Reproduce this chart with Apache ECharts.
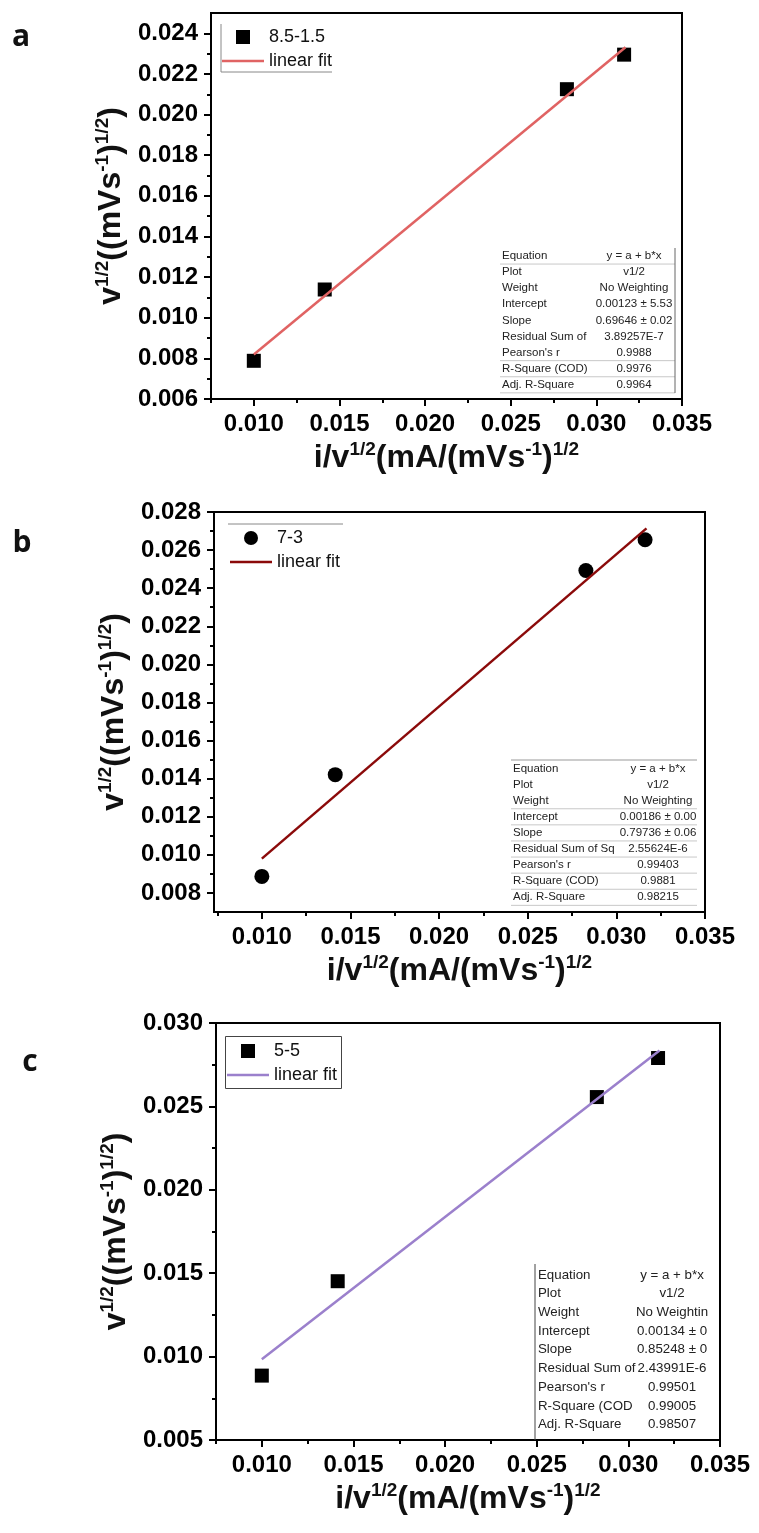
<!DOCTYPE html>
<html><head><meta charset="utf-8">
<script src="https://cdn.jsdelivr.net/npm/echarts@6/dist/echarts.min.js"></script>
<style>html,body{margin:0;padding:0;background:#fff}#c{width:759px;height:1533px}</style>
</head><body><div id="c"></div>
<script>
// ---------------- data ----------------
const xValues = [0.0100, 0.01414, 0.02828, 0.03162];
const yA = [0.00788, 0.01139, 0.02125, 0.02295];
const yB = [0.00887, 0.01421, 0.02493, 0.02654];
const yC = [0.00886, 0.01452, 0.02556, 0.02790];
const fitX = [0.0100, 0.0317];
const fitA = [0.00819, 0.02331];
const fitB = [0.00980, 0.02714];
const fitC = [0.00984, 0.02835];
const sampleNames = ['8.5-1.5', '7-3', '5-5'];
const fitLabel = 'linear fit';
const panelLetters = ['a', 'b', 'c'];

const xMajor = [0.010, 0.015, 0.020, 0.025, 0.030, 0.035];
const xMinor = [0.0075, 0.0125, 0.0175, 0.0225, 0.0275, 0.0325];
const yMajorA = [0.006, 0.008, 0.010, 0.012, 0.014, 0.016, 0.018, 0.020, 0.022, 0.024];
const yMinorA = [0.007, 0.009, 0.011, 0.013, 0.015, 0.017, 0.019, 0.021, 0.023];
const yMajorB = [0.008, 0.010, 0.012, 0.014, 0.016, 0.018, 0.020, 0.022, 0.024, 0.026, 0.028];
const yMinorB = [0.009, 0.011, 0.013, 0.015, 0.017, 0.019, 0.021, 0.023, 0.025, 0.027];
const yMajorC = [0.005, 0.010, 0.015, 0.020, 0.025, 0.030];
const yMinorC = [0.0075, 0.0125, 0.0175, 0.0225, 0.0275];

const tableLabelsA = ['Equation', 'Plot', 'Weight', 'Intercept', 'Slope', 'Residual Sum of', "Pearson's r", 'R-Square (COD)', 'Adj. R-Square'];
const tableValuesA = ['y = a + b*x', 'v1/2', 'No Weighting', '0.00123 ± 5.53', '0.69646 ± 0.02', '3.89257E-7', '0.9988', '0.9976', '0.9964'];
const tableLabelsB = ['Equation', 'Plot', 'Weight', 'Intercept', 'Slope', 'Residual Sum of Sq', "Pearson's r", 'R-Square (COD)', 'Adj. R-Square'];
const tableValuesB = ['y = a + b*x', 'v1/2', 'No Weighting', '0.00186 ± 0.00', '0.79736 ± 0.06', '2.55624E-6', '0.99403', '0.9881', '0.98215'];
const tableLabelsC = ['Equation', 'Plot', 'Weight', 'Intercept', 'Slope', 'Residual Sum of', "Pearson's r", 'R-Square (COD', 'Adj. R-Square'];
const tableValuesC = ['y = a + b*x', 'v1/2', 'No Weightin', '0.00134 ± 0', '0.85248 ± 0', '2.43991E-6', '0.99501', '0.99005', '0.98507'];

// ---------------- styling ----------------
const FONT = '"Liberation Sans", Arial, sans-serif';
const colors = ['#e06363', '#8b0a0a', '#9b80cc'];
const richName = {
  b: { fontSize: 32, fontWeight: 'bold', fontFamily: FONT, color: '#111', lineHeight: 36 },
  s: { fontSize: 19, fontWeight: 'bold', fontFamily: FONT, color: '#111', lineHeight: 18, verticalAlign: 'top' }
};
const xName = '{b|i/v}{s|1/2}{b|(mA/(mVs}{s|-1}{b|)}{s|1/2}';
const yName = '{b|v}{s|1/2}{b|((mVs}{s|-1}{b|)}{s|1/2}{b|)}';

const grids = [
  { left: 211, top: 13, width: 471, height: 386 },
  { left: 214, top: 512, width: 491, height: 400 },
  { left: 216, top: 1023, width: 504, height: 417 }
];
const xRanges = [[0.0075, 0.035], [0.0073, 0.035], [0.0075, 0.035]];
const yRanges = [[0.006, 0.025], [0.007, 0.028], [0.005, 0.030]];
const yMajors = [yMajorA, yMajorB, yMajorC];
const yMinors = [yMinorA, yMinorB, yMinorC];

const xAxis = [], yAxis = [];
grids.forEach((g, i) => {
  xAxis.push({
    gridIndex: i, type: 'value', position: 'bottom', min: xRanges[i][0], max: xRanges[i][1],
    axisLine: { show: true, onZero: false, lineStyle: { color: '#000', width: 2 } },
    axisTick: { show: true, customValues: xMajor, length: 7, lineStyle: { color: '#000', width: 2 } },
    axisLabel: { customValues: xMajor, formatter: v => v.toFixed(3), fontSize: 24, fontWeight: 'bold', fontFamily: FONT, color: '#000', margin: 13 },
    splitLine: { show: false },
    name: xName, nameLocation: 'middle', nameGap: 41, nameTextStyle: { rich: richName }
  });
  xAxis.push({
    gridIndex: i, type: 'value', position: 'bottom', min: xRanges[i][0], max: xRanges[i][1],
    axisLine: { show: false, onZero: false },
    axisTick: { show: true, customValues: xMinor, length: 4, lineStyle: { color: '#000', width: 2 } },
    axisLabel: { show: false }, splitLine: { show: false }
  });
  yAxis.push({
    gridIndex: i, type: 'value', position: 'left', min: yRanges[i][0], max: yRanges[i][1],
    axisLine: { show: true, onZero: false, lineStyle: { color: '#000', width: 2 } },
    axisTick: { show: true, customValues: yMajors[i], length: 7, lineStyle: { color: '#000', width: 2 } },
    axisLabel: { customValues: yMajors[i], formatter: v => v.toFixed(3), fontSize: 24, fontWeight: 'bold', fontFamily: FONT, color: '#000', margin: 13 },
    splitLine: { show: false },
    name: yName, nameLocation: 'middle', nameGap: 82, nameTextStyle: { rich: richName }
  });
  yAxis.push({
    gridIndex: i, type: 'value', position: 'left', min: yRanges[i][0], max: yRanges[i][1],
    axisLine: { show: false, onZero: false },
    axisTick: { show: true, customValues: yMinors[i], length: 4, lineStyle: { color: '#000', width: 2 } },
    axisLabel: { show: false }, splitLine: { show: false }
  });
});

const pointSets = [yA, yB, yC];
const fitSets = [fitA, fitB, fitC];
const symbols = ['rect', 'circle', 'rect'];
const symbolSizes = [14, 15, 14];
const series = [];
pointSets.forEach((ys, i) => {
  series.push({
    name: sampleNames[i], type: 'scatter', xAxisIndex: 2 * i, yAxisIndex: 2 * i,
    symbol: symbols[i], symbolSize: symbolSizes[i], itemStyle: { color: '#000', opacity: 1 },
    data: xValues.map((x, k) => [x, ys[k]]), z: 3
  });
  series.push({
    name: 'fit ' + panelLetters[i], type: 'line', xAxisIndex: 2 * i, yAxisIndex: 2 * i,
    symbol: 'none', color: colors[i], lineStyle: { color: colors[i], width: 2.5 },
    data: fitX.map((x, k) => [x, fitSets[i][k]]), z: 4
  });
});

const legendPos = [{ left: 222, top: 27 }, { left: 230, top: 528 }, { left: 227, top: 1041 }];
const sampleIcons = ['path://M0,0H10V10H0Z', 'circle', 'path://M0,0H10V10H0Z'];
const legend = legendPos.map((p, i) => ({
  left: p.left, top: p.top, orient: 'vertical', padding: 0, itemGap: 4,
  itemWidth: 42, itemHeight: 14, selectedMode: false,
  itemStyle: { borderWidth: 0, opacity: 1 },
  data: [{ name: sampleNames[i], icon: sampleIcons[i] }, { name: 'fit ' + panelLetters[i], icon: 'path://M0,0H42V2.6H0Z' }],
  formatter: n => n.indexOf('fit ') === 0 ? fitLabel : n,
  textStyle: { fontSize: 18, fontFamily: FONT, color: '#111', lineHeight: 20 }
}));

// ---------------- tables (decoration) ----------------
function txt(x, y, s, size, align) {
  return { type: 'text', x: x, y: y, silent: true, z: 10,
    style: { text: s, fill: '#222', fontSize: size, fontFamily: FONT, align: align, textAlign: align, verticalAlign: 'middle', textVerticalAlign: 'middle' } };
}
function ln(x1, y1, x2, y2, c, w) {
  return { type: 'line', silent: true, z: 10, shape: { x1, y1, x2, y2 }, style: { stroke: c || '#bbb', lineWidth: w || 1 } };
}
function table(labels, values, t) {
  const els = [];
  labels.forEach((l, k) => {
    const y = t.top + k * t.step;
    els.push(txt(t.left, y, l, t.size, 'left'));
    els.push(txt(t.valX, y, values[k], t.size, 'center'));
  });
  (t.hLines || []).forEach(k => {
    const y = t.top + k * t.step + t.step / 2;
    els.push(ln(t.lineL, y, t.lineR, y, '#c8c8c8', 1));
  });
  return els;
}
const graphic = [];
[[21, 37], [22, 543], [30, 1062]].forEach((p, i) => {
  graphic.push({ type: 'text', x: p[0], y: p[1], silent: true,
    style: { text: panelLetters[i], fill: '#111', fontSize: 30, fontWeight: 'bold', fontFamily: '"Open Sans", sans-serif', align: 'center', textAlign: 'center', verticalAlign: 'middle', textVerticalAlign: 'middle' } });
});
graphic.push(ln(221, 24, 221, 72, '#888', 1), ln(221, 72, 332, 72, '#888', 1));
graphic.push(ln(228, 524, 343, 524, '#888', 1));
graphic.push({ type: 'rect', silent: true, shape: { x: 225.5, y: 1036.5, width: 116, height: 52 }, style: { fill: 'none', stroke: '#444', lineWidth: 1 } });
graphic.push(...table(tableLabelsA, tableValuesA, { left: 502, top: 256, step: 16.1, valX: 634, size: 11.5, hLines: [0, 6, 7, 8], lineL: 500, lineR: 675 }));
graphic.push(ln(675, 248, 675, 393, '#666', 1));
graphic.push(...table(tableLabelsB, tableValuesB, { left: 513, top: 768.5, step: 16.1, valX: 658, size: 11.5, hLines: [2, 3, 4, 5, 6, 7, 8], lineL: 511, lineR: 697 }));
graphic.push(ln(511, 760, 697, 760, '#999', 1));
graphic.push(...table(tableLabelsC, tableValuesC, { left: 538, top: 1275, step: 18.7, valX: 672, size: 13.3, hLines: [], lineL: 535, lineR: 700 }));
graphic.push(ln(535, 1264, 535, 1440, '#444', 1));

const chart = echarts.init(document.getElementById('c'), null, { renderer: 'canvas' });
chart.setOption({
  backgroundColor: '#fff',
  animation: false,
  grid: grids.map(g => Object.assign({ show: true, borderColor: '#000', borderWidth: 2, backgroundColor: 'transparent' }, g)),
  xAxis, yAxis, series, legend, graphic
});
</script></body></html>
